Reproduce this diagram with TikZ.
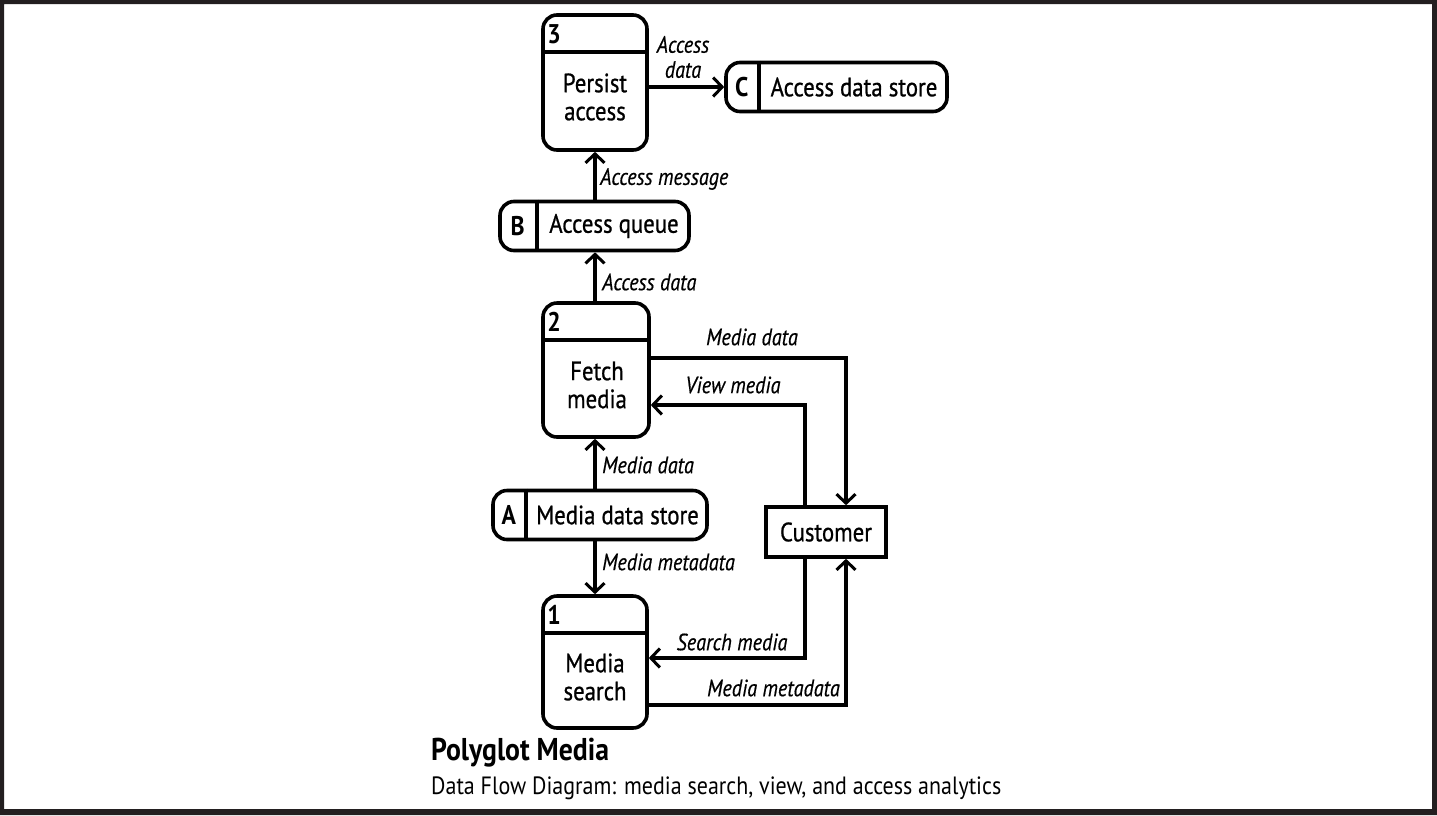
\documentclass[tikz,border=0pt]{standalone}
\usepackage{fontspec}
\setmainfont{PT Sans}[FakeStretch=0.88]
\newfontfamily\boxfont{PT Sans}[FakeStretch=0.86, FakeBold=0.8]
\newfontfamily\lblfont{PT Sans}[FakeStretch=0.86, FakeBold=0.5]
\usetikzlibrary{arrows.meta,calc}
\definecolor{ink}{HTML}{231F20}
\begin{document}
\begin{tikzpicture}[x=1pt,y=-1pt,
  box/.style={draw=black, line width=3.6pt, rounded corners=14pt, inner sep=0pt},
  proc/.style={box, minimum width=104pt, minimum height=134pt},
  store/.style={box, minimum height=49pt},
  ent/.style={draw=black, line width=3.6pt, inner sep=0pt, minimum width=120pt, minimum height=50pt},
  div/.style={draw=black, line width=3.6pt},
  flow/.style={draw=black, line width=3.4pt, -{Straight Barb[length=9pt,width=19pt,line width=3pt]}},
  lbl/.style={font=\lblfont\fontsize{23.5}{25}\selectfont\itshape, inner sep=0pt, align=center},
  txt/.style={font=\boxfont\fontsize{26.5}{28}\selectfont, align=center, inner sep=0pt},
  ltr/.style={font=\fontsize{27}{28}\selectfont\bfseries, inner sep=0pt},
  num/.style={font=\fontsize{27}{28}\selectfont\bfseries, inner sep=0pt, anchor=west}
]
\useasboundingbox (0,0) rectangle (1437,815);
\fill[ink, even odd rule] (0,0) rectangle (1437,815) (4,4) rectangle (1432,809);

% processes
\node[proc, minimum height=135pt] (p3) at (595,82.5) {};
\node[proc, minimum width=106pt] (p2) at (596,370) {};
\node[proc, minimum height=132pt] (p1) at (595,662) {};
\foreach \p in {p1,p2,p3}{
  \draw[div] ($(\p.north west)+(0,39)$) -- ($(\p.north east)+(0,39)$);
}
\node[num] (n3) at ($(p3.north west)+(6,21)$) {3};
\node[num] (n2) at ($(p2.north west)+(6,21)$) {2};
\node[num] (n1) at ($(p1.north west)+(6,21)$) {1};
\node[txt] (t3) at (595,97) {Persist\\access};
\node[txt] (t2) at (597,385) {Fetch\\media};
\node[txt] (t1) at (595,677) {Media\\search};

% stores
\node[store, minimum width=221pt] (sC) at (836.5,87) {};
\node[store, minimum width=189pt] (sB) at (594.5,226) {};
\node[store, minimum width=214pt] (sA) at (600,515) {};
\draw[div] ($(sC.north west)+(35,0)$) -- ($(sC.south west)+(35,0)$);
\draw[div] ($(sB.north west)+(39,0)$) -- ($(sB.south west)+(39,0)$);
\draw[div] ($(sA.north west)+(35,0)$) -- ($(sA.south west)+(35,0)$);
\node[ltr] (lC) at ($(sC.west)+(17.5,0)$) {C};
\node[ltr] (lB) at ($(sB.west)+(19.5,0)$) {B};
\node[ltr] (lA) at ($(sA.west)+(17.5,0)$) {A};
\node[txt] (xC) at (854,87) {Access data store};
\node[txt] (xB) at (614,226) {Access queue};
\node[txt] (xA) at (617.5,515) {Media data store};

% external entity
\node[ent] (cust) at (826,532) {};
\node[txt] (cu) at (826,532) {Customer};

% flows
\draw[flow] (p3.east |- sC.west) -- (sC.west);
\draw[flow] (sB.north -| p3.south) -- (p3.south);
\draw[flow] (p2.north -| p3.south) -- (sB.south -| p3.south);
\draw[flow] (sA.north -| p3.south) -- (p2.south -| p3.south);
\draw[flow] (sA.south -| p1.north) -- (p1.north);
\draw[flow] ([yshift=12pt]p2.east) -| ([xshift=20pt]cust.north);
\draw[flow] ([xshift=-21pt]cust.north) |- ([yshift=-35pt]p2.east);
\draw[flow] ([xshift=-21pt]cust.south) |- ([yshift=4pt]p1.east);
\draw[flow] ([yshift=-43pt]p1.east) -| ([xshift=20pt]cust.south);

% flow labels
\node[lbl] (f1) at (683,57) {Access\\data};
\node[lbl, anchor=west] (f2) at (600,179) {Access message};
\node[lbl, anchor=west] (f3) at (602,282) {Access data};
\node[lbl] (f4) at (752,337) {Media data};
\node[lbl] (f5) at (733,385) {View media};
\node[lbl, anchor=west] (f6) at (602,465) {Media data};
\node[lbl, anchor=west] (f7) at (602,562) {Media metadata};
\node[lbl] (f8) at (732,642) {Search media};
\node[lbl, anchor=east] (f9) at (840,688) {Media metadata};

% title
\node[anchor=west, inner sep=0pt, font=\fontsize{31.5}{34}\selectfont\bfseries] (title) at (431,753) {Polyglot Media};
\node[anchor=west, inner sep=0pt, font=\fontsize{25}{28}\selectfont] (sub) at (431,788) {Data Flow Diagram: media search, view, and access analytics};
\end{tikzpicture}
\end{document}
